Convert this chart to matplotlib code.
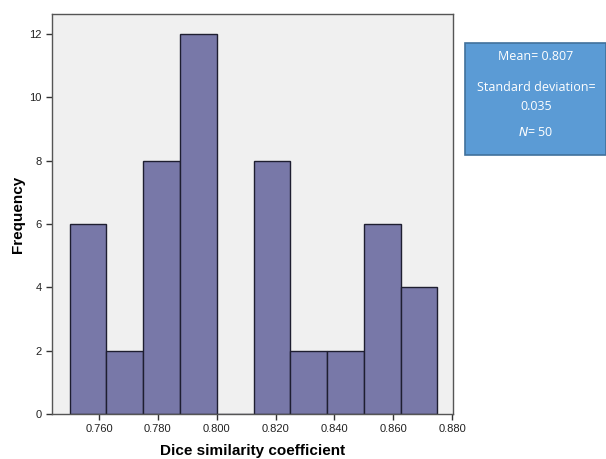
import matplotlib.pyplot as plt
from matplotlib.patches import FancyBboxPatch

# histogram data (SPSS-style), bin width 0.0125
bin_edges = [0.7500, 0.7625, 0.7750, 0.7875, 0.8000, 0.8125,
             0.8250, 0.8375, 0.8500, 0.8625, 0.8750]
counts = [6, 2, 8, 12, 0, 8, 2, 2, 6, 4]
x_ticks = [0.760, 0.780, 0.800, 0.820, 0.840, 0.860, 0.880]
y_ticks = [0, 2, 4, 6, 8, 10, 12]
stats_lines = ['Mean= 0.807', 'Standard deviation=\n0.035', '$\\it{N}$= 50']

plt.rcParams['font.family'] = ['Liberation Sans', 'DejaVu Sans']

fig = plt.figure(figsize=(6.06, 4.59), dpi=100)
ax = fig.add_axes([0.0858, 0.098, 0.6617, 0.8717])
ax.set_facecolor('#f0f0f0')

widths = [bin_edges[i + 1] - bin_edges[i] for i in range(len(counts))]
ax.bar(bin_edges[:-1], counts, width=widths, align='edge',
       color='#7878a8', edgecolor='#1e1e30', linewidth=1.0)

ax.set_xlim(0.744, 0.8803)
ax.set_ylim(0, 12.63)
ax.set_xticks(x_ticks)
ax.set_xticklabels(['%.3f' % t for t in x_ticks])
ax.set_yticks(y_ticks)
ax.tick_params(axis='both', labelsize=8, length=4, width=1.0,
               color='#333333', labelcolor='#222222')
for s in ax.spines.values():
    s.set_color('#555555')
    s.set_linewidth(1.0)

ax.set_xlabel('Dice similarity coefficient', fontsize=11, fontweight='bold', labelpad=7)
ax.set_ylabel('Frequency', fontsize=11, fontweight='bold')
ax.yaxis.set_label_coords(-0.068, 0.5)

# stats box on the right
box = FancyBboxPatch((465 / 606, 1 - 155 / 459), 141 / 606, 112 / 459,
                     boxstyle='square,pad=0', transform=fig.transFigure,
                     facecolor='#5b9bd5', edgecolor='#41719c', linewidth=1.2)
fig.patches.append(box)
cx = 536 / 606
fig.text(cx, 1 - 57 / 459, stats_lines[0], color='white', fontsize=9,
         ha='center', va='center', family=['Open Sans', 'DejaVu Sans'])
fig.text(cx, 1 - 97 / 459, stats_lines[1], color='white', fontsize=9,
         ha='center', va='center', linespacing=1.55, family=['Open Sans', 'DejaVu Sans'])
fig.text(cx, 1 - 132 / 459, stats_lines[2], color='white', fontsize=9,
         ha='center', va='center', family=['Open Sans', 'DejaVu Sans'])

fig.savefig('out.png', dpi=100)
